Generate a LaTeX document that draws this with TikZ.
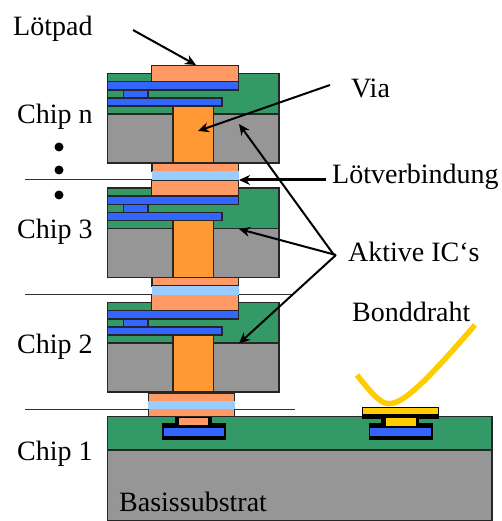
\documentclass[tikz,border=0pt]{standalone}
\usepackage{fontspec}
\setmainfont{Liberation Serif}
\usetikzlibrary{arrows.meta}

\definecolor{chipgreen}{HTML}{339966}
\definecolor{chipgray}{HTML}{969696}
\definecolor{metalblue}{HTML}{3366FF}
\definecolor{viaorange}{HTML}{FF9933}
\definecolor{padsalmon}{HTML}{FF9966}
\definecolor{solderblue}{HTML}{99CCFF}
\definecolor{bondyellow}{HTML}{FFCC00}

\begin{document}
\begin{tikzpicture}[x=1pt,y=-1pt]
            \tikzstyle{every node}=[font=\fontsize{28}{28}\selectfont,inner sep=0pt]
            \tikzstyle{layer}=[draw=black!85,line width=1.3pt]
            \tikzstyle{label}=[anchor=west]
            \tikzstyle{pointer}=[draw=black,line width=2pt,-{Stealth[length=11pt,width=10pt]}]
            \tikzstyle{seam}=[draw=black!80,line width=1pt]
            \useasboundingbox (0,0) rectangle (502,521);

            % seam lines behind the solder
            \draw[seam] (25,180) -- (152,180);
            \draw[seam] (25,294.5) -- (292,294.5);
            \draw[seam] (25,409) -- (295,409);

            % the three stacked chips
            \foreach \dy/\name in {0/n,114.5/c,229/b} {
                \draw[layer,fill=chipgreen] (107.5,73.5+\dy) rectangle (279,114+\dy);
                \draw[layer,fill=chipgray] (107.5,114+\dy) rectangle (279,163+\dy);
                \draw[layer,fill=viaorange] (173,106+\dy) rectangle (213.5,163+\dy);
                \draw[layer,fill=padsalmon] (151.5,65.5+\dy) rectangle (238.5,81.5+\dy);
                \draw[layer,fill=metalblue] (107.5,81.5+\dy) rectangle (238.5,90+\dy);
                \draw[layer,fill=metalblue] (123.5,90+\dy) rectangle (148,98+\dy);
                \draw[layer,fill=metalblue] (107.5,98+\dy) rectangle (222,106+\dy);
                \coordinate (via \name) at (198,131+\dy);
                \coordinate (gray \name) at (239,124+\dy);
            }

            % solder bumps
            \foreach \dy in {0,114.5} {
                \draw[layer,fill=padsalmon] (152,163+\dy) rectangle (238.5,171.5+\dy);
                \fill[solderblue] (151.5,171.5+\dy) rectangle (238.5,180+\dy);
            }
            \draw[layer,fill=padsalmon] (148.5,393) rectangle (234.5,417);
            \fill[solderblue] (148,400.5) rectangle (235,409);

            % base chip
            \draw[layer,fill=chipgreen] (107.5,416.5) rectangle (492,450);
            \draw[layer,fill=chipgray] (107.5,450) rectangle (492,521);

            % contact on the left
            \fill[black] (175,417) rectangle (212,425);
            \fill[black] (161.5,423) rectangle (225.5,439.5);
            \draw[draw=black,line width=1pt,fill=padsalmon] (178.5,417.5) rectangle (208.5,425.5);
            \fill[metalblue] (163.5,427.5) rectangle (224,436);

            % bond wire and contact on the right
            \fill[black] (362,411) rectangle (438.5,418.5);
            \fill[black] (381,418) rectangle (419,425);
            \fill[black] (368.5,423) rectangle (432.5,439.5);
            \draw[draw=black,line width=1pt,fill=bondyellow] (362.5,407) rectangle (438,414.5);
            \draw[draw=none,fill=bondyellow] (385.5,418) rectangle (415.5,425.5);
            \fill[metalblue] (370,427.5) rectangle (431,436);
            \draw[bondyellow,line width=5.5pt] (357,375) .. controls (375,398) and (383,405) .. (391,403.5)
                .. controls (408,402) and (440,365) .. (475,325);

            % labels
            \node[label] (loetpad) at (13,29) {Lötpad};
            \node[label] (chipn) at (17,117) {Chip n};
            \node[label] (chipc) at (17,232) {Chip 3};
            \node[label] (chipb) at (17,347) {Chip 2};
            \node[label] (chipa) at (17,454) {Chip 1};
            \node[label] (via) at (351,88) {Via};
            \node[label] (verbindung) at (332,177) {Lötverbindung};
            \node[label] (aktive) at (348,252) {Aktive IC‘s};
            \node[label] (bonddraht) at (352,312) {Bonddraht};
            \node[label] (substrat) at (119,502) {Basissubstrat};

            % dots between the chips
            \foreach \y/\name in {147/dota,170/dotb,195/dotc} {
                \node[circle,fill=black,minimum size=9pt] (\name) at (59,\y) {};
            }

            % pointers
            \coordinate (padtop) at (196,65);
            \coordinate (solder) at (239,180);
            \coordinate (gray a) at (239,343.5);
            \coordinate (gray c) at (239,229);
            \draw[pointer] (133,30) -- (padtop);
            \draw[pointer] (via.west) ++(-21,-3) -- (via n);
            \draw[pointer,line width=3pt] (verbindung.west) ++(-6,3) -- (solder);
            \draw[pointer] (aktive.west) ++(-14,3) -- (gray n);
            \draw[pointer] (aktive.west) ++(-12,3) -- (gray c);
            \draw[pointer] (aktive.west) ++(-12,3) -- (gray a);
        \end{tikzpicture}
\end{document}
